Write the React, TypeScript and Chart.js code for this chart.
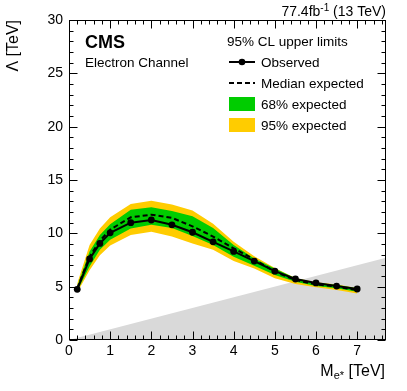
import React, { useEffect, useRef } from "react";
import { Chart, registerables } from "chart.js";

Chart.register(...registerables);

// ---- data (TeV) ----
const masses = [0.2, 0.5, 0.75, 1, 1.5, 2, 2.5, 3, 3.5, 4, 4.5, 5, 5.5, 6, 6.5, 7];
const observed = [4.75, 7.6, 9.05, 10.05, 11.0, 11.25, 10.8, 10.1, 9.2, 8.3, 7.4, 6.45, 5.72, 5.35, 5.06, 4.78];
const expected = [4.85, 7.8, 9.3, 10.35, 11.5, 11.75, 11.45, 10.65, 9.7, 8.6, 7.55, 6.4, 5.62, 5.22, 5.0, 4.68];
const band68Up = [5.05, 8.3, 9.85, 10.85, 12.2, 12.45, 12.1, 11.6, 10.5, 8.9, 7.65, 6.7, 5.78, 5.37, 5.16, 4.84];
const band68Lo = [4.6, 6.9, 8.45, 9.4, 10.45, 10.8, 10.5, 9.75, 8.9, 7.8, 6.95, 6.1, 5.47, 5.06, 4.84, 4.53];
const band95Up = [5.3, 8.9, 10.45, 11.5, 12.75, 13.05, 12.7, 12.15, 10.9, 9.2, 7.85, 6.75, 5.82, 5.42, 5.2, 4.88];
const band95Lo = [4.45, 6.55, 7.95, 8.85, 9.85, 10.15, 9.7, 9.05, 8.45, 7.4, 6.7, 5.78, 5.25, 4.94, 4.69, 4.37];
// excluded region Λ < M
const excludedX = [0, 7.7];
const excludedY = [0, 7.7];

const xMin = 0;
const xMax = 7.7;
const yMin = 0;
const yMax = 30;
const xMajorStep = 1;
const xMinorStep = 0.2;
const yMajorStep = 5;
const yMinorStep = 1;

const FONT = "'Liberation Sans', Arial, Helvetica, sans-serif";
const GREEN = "rgb(0,204,0)";
const YELLOW = "rgb(255,204,0)";
const GRAY = "rgb(217,217,217)";

const pts = (xs: number[], ys: number[]) => xs.map((x, i) => ({ x, y: ys[i] }));

const decorPlugin = {
  id: "decor",
  afterDraw(chart: any) {
    const { ctx, chartArea, scales } = chart;
    const { left, right, top, bottom } = chartArea;
    const xs = scales.x;
    const ys = scales.y;
    ctx.save();
    ctx.strokeStyle = "#000";
    ctx.lineWidth = 1;
    // frame
    const L = Math.round(left) + 0.5;
    const R = Math.round(right) - 0.5;
    const T = Math.round(top) + 0.5;
    const B = Math.round(bottom) - 0.5;
    ctx.strokeRect(L, T, R - L, B - T);
    // ticks
    const majorLen = 8;
    const minorLen = 4;
    ctx.beginPath();
    const nx = Math.round((xMax - xMin) / xMinorStep);
    for (let i = 0; i <= nx; i++) {
      const v = xMin + i * xMinorStep;
      if (v > xMax + 1e-9) break;
      const isMajor = Math.abs(v / xMajorStep - Math.round(v / xMajorStep)) < 1e-6;
      const len = isMajor ? majorLen : minorLen;
      const px = Math.round(xs.getPixelForValue(v)) + 0.5;
      ctx.moveTo(px, B);
      ctx.lineTo(px, B - len);
      ctx.moveTo(px, T);
      ctx.lineTo(px, T + len);
    }
    const ny = Math.round((yMax - yMin) / yMinorStep);
    for (let i = 0; i <= ny; i++) {
      const v = yMin + i * yMinorStep;
      const isMajor = Math.abs(v / yMajorStep - Math.round(v / yMajorStep)) < 1e-6;
      const len = isMajor ? majorLen : minorLen;
      const py = Math.round(ys.getPixelForValue(v)) + 0.5;
      ctx.moveTo(L, py);
      ctx.lineTo(L + len, py);
      ctx.moveTo(R, py);
      ctx.lineTo(R - len, py);
    }
    ctx.stroke();

    ctx.fillStyle = "#000";
    ctx.textBaseline = "alphabetic";
    // top right lumi text
    {
      const f1 = `14px ${FONT}`;
      const f2 = `10px ${FONT}`;
      const a = "77.4fb";
      const s = "-1";
      const b = " (13 TeV)";
      ctx.font = f1;
      const wa = ctx.measureText(a).width;
      const wb = ctx.measureText(b).width;
      ctx.font = f2;
      const ws = ctx.measureText(s).width;
      let x = right - (wa + ws + wb);
      const y = 16;
      ctx.font = f1;
      ctx.fillText(a, x, y);
      x += wa;
      ctx.font = f2;
      ctx.fillText(s, x, y - 5);
      x += ws;
      ctx.font = f1;
      ctx.fillText(b, x, y);
    }
    // x axis title
    {
      const f1 = `16px ${FONT}`;
      const f2 = `11px ${FONT}`;
      const a = "M";
      const s = "e*";
      const b = " [TeV]";
      ctx.font = f1;
      const wa = ctx.measureText(a).width;
      const wb = ctx.measureText(b).width;
      ctx.font = f2;
      const ws = ctx.measureText(s).width;
      let x = right - 1 - (wa + ws + wb);
      const y = 376;
      ctx.font = f1;
      ctx.fillText(a, x, y);
      x += wa;
      ctx.font = f2;
      ctx.fillText(s, x, y + 3);
      x += ws;
      ctx.font = f1;
      ctx.fillText(b, x, y);
    }
    // CMS label
    ctx.font = `bold 18px ${FONT}`;
    ctx.fillText("CMS", 85, 48);
    ctx.font = `13.5px ${FONT}`;
    ctx.fillText("Electron Channel", 85, 67);
    // legend
    ctx.fillText("95% CL upper limits", 227, 46);
    const sx0 = 229;
    const sx1 = 255;
    const tx = 261;
    const rows = [62, 83, 104, 125];
    const labels = ["Observed", "Median expected", "68% expected", "95% expected"];
    // observed symbol
    ctx.lineWidth = 2;
    ctx.beginPath();
    ctx.moveTo(sx0, rows[0]);
    ctx.lineTo(sx1, rows[0]);
    ctx.stroke();
    ctx.beginPath();
    ctx.arc((sx0 + sx1) / 2, rows[0], 3.3, 0, Math.PI * 2);
    ctx.fill();
    // median symbol
    ctx.setLineDash([5, 3]);
    ctx.beginPath();
    ctx.moveTo(sx0, rows[1]);
    ctx.lineTo(sx1, rows[1]);
    ctx.stroke();
    ctx.setLineDash([]);
    // boxes
    ctx.fillStyle = GREEN;
    ctx.fillRect(sx0, rows[2] - 7, sx1 - sx0, 14);
    ctx.fillStyle = YELLOW;
    ctx.fillRect(sx0, rows[3] - 7, sx1 - sx0, 14);
    ctx.fillStyle = "#000";
    ctx.textBaseline = "middle";
    ctx.font = `13.5px ${FONT}`;
    labels.forEach((t, i) => ctx.fillText(t, tx, rows[i] + 1));
    ctx.restore();
  },
};

export default function App() {
  const ref = useRef<HTMLCanvasElement | null>(null);
  useEffect(() => {
    document.body.style.margin = "0";
    const canvas = ref.current;
    if (!canvas) return;
    const lineBase = { pointRadius: 0, borderWidth: 0, borderColor: "rgba(0,0,0,0)", tension: 0 };
    const chart = new Chart(canvas, {
      type: "line",
      data: {
        datasets: [
          {
            label: "Observed",
            data: pts(masses, observed),
            borderColor: "#000",
            borderWidth: 2,
            pointRadius: 3.4,
            pointBackgroundColor: "#000",
            pointBorderWidth: 0,
            fill: false,
            tension: 0,
            order: 0,
          },
          {
            label: "Median expected",
            data: pts(masses, expected),
            borderColor: "#000",
            borderWidth: 2,
            borderDash: [5, 3],
            pointRadius: 0,
            fill: false,
            tension: 0,
            order: 1,
          },
          { label: "68% up", data: pts(masses, band68Up), ...lineBase, backgroundColor: GREEN, fill: "+1", order: 2 },
          { label: "68% lo", data: pts(masses, band68Lo), ...lineBase, fill: false, order: 3 },
          { label: "95% up", data: pts(masses, band95Up), ...lineBase, backgroundColor: YELLOW, fill: "+1", order: 4 },
          { label: "95% lo", data: pts(masses, band95Lo), ...lineBase, fill: false, order: 5 },
          { label: "excluded", data: pts(excludedX, excludedY), ...lineBase, backgroundColor: GRAY, fill: "origin", order: 6 },
        ],
      },
      options: {
        responsive: false,
        animation: false,
        devicePixelRatio: 1,
        layout: { padding: { top: 20, right: 21, left: 0, bottom: 0 } },
        plugins: { legend: { display: false }, tooltip: { enabled: false } },
        scales: {
          x: {
            type: "linear",
            min: xMin,
            max: xMax,
            grid: { display: false, drawTicks: false },
            border: { display: false },
            ticks: {
              stepSize: xMajorStep,
              includeBounds: false,
              autoSkip: false,
              maxRotation: 0,
              padding: 3,
              color: "#000",
              font: { family: FONT, size: 14 },
              callback: (v: any) => (Math.abs(v - Math.round(v)) < 1e-6 ? String(Math.round(v)) : ""),
            },
            afterFit: (s: any) => {
              s.height = 51;
            },
          },
          y: {
            type: "linear",
            min: yMin,
            max: yMax,
            grid: { display: false, drawTicks: false },
            border: { display: false },
            title: {
              display: true,
              text: "Λ [TeV]",
              align: "end",
              color: "#000",
              font: { family: FONT, size: 16 },
              padding: { top: 4, bottom: 4 },
            },
            ticks: {
              stepSize: yMajorStep,
              autoSkip: false,
              padding: 6,
              color: "#000",
              font: { family: FONT, size: 14 },
            },
            afterFit: (s: any) => {
              s.width = 69;
            },
          },
        },
      } as any,
      plugins: [decorPlugin],
    });
    return () => chart.destroy();
  }, []);
  return (
    <div style={{ width: 407, height: 391 }}>
      <canvas ref={ref} width={407} height={391} style={{ display: "block", width: 407, height: 391 }} />
    </div>
  );
}
